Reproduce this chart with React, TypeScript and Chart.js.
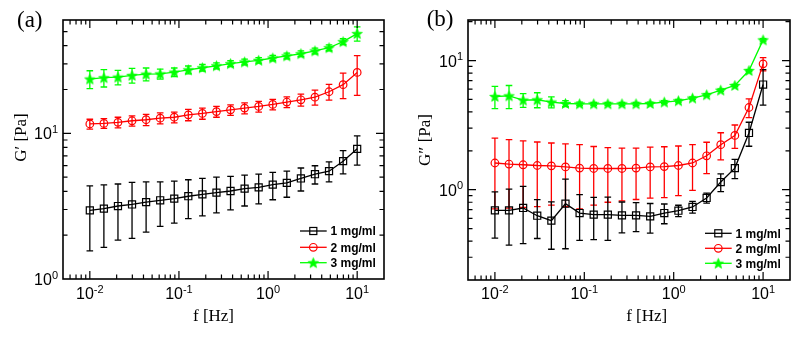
import React, { useEffect, useRef } from 'react';
import { Chart, registerables } from 'chart.js';

Chart.register(...registerables);

// ---- data ----
const freq = [0.01, 0.01438, 0.02069, 0.02976, 0.04281, 0.06158, 0.08859, 0.1274, 0.1833, 0.2637, 0.3793, 0.5456, 0.7848, 1.129, 1.624, 2.336, 3.36, 4.833, 6.952, 10];

const seriesLabels = ['1 mg/ml', '2 mg/ml', '3 mg/ml'];

// (a) G'
const gp1 = [2.96, 3.04, 3.17, 3.25, 3.37, 3.47, 3.56, 3.7, 3.81, 3.92, 4.02, 4.17, 4.26, 4.45, 4.57, 4.9, 5.24, 5.5, 6.44, 7.83];
const gp1Err = [1.4, 1.39, 1.32, 1.35, 1.27, 1.17, 1.14, 1.1, 1.1, 1.08, 1.04, 1.0, 0.98, 0.95, 0.93, 0.88, 0.75, 0.86, 1.17, 1.77];
const gp2 = [11.6, 11.7, 11.9, 12.2, 12.4, 12.7, 12.9, 13.4, 13.7, 14.1, 14.5, 14.9, 15.3, 15.8, 16.4, 17.0, 17.7, 19.3, 21.6, 26.2];
const gp2Err = [0.9, 0.9, 1.0, 1.0, 1.1, 1.1, 1.1, 1.2, 1.2, 1.2, 1.2, 1.3, 1.3, 1.3, 1.4, 1.6, 2.1, 2.4, 4.3, 8.0];
const gp3 = [23.6, 24.1, 24.3, 25.0, 25.5, 25.6, 26.3, 27.3, 28.2, 29.1, 30.1, 30.9, 31.7, 32.9, 34.0, 35.2, 36.8, 38.7, 42.6, 48.4];
const gp3Err = [3.3, 3.3, 2.8, 2.9, 2.6, 2.0, 1.8, 1.7, 1.5, 1.4, 1.4, 1.4, 1.4, 1.4, 1.5, 1.6, 1.7, 1.8, 2.0, 5.4];

// (b) G''
const gpp1 = [0.692, 0.692, 0.722, 0.629, 0.576, 0.779, 0.66, 0.641, 0.641, 0.633, 0.633, 0.622, 0.66, 0.688, 0.735, 0.863, 1.147, 1.47, 2.75, 6.52];
const gpp1Err = [0.27, 0.32, 0.34, 0.21, 0.23, 0.43, 0.255, 0.23, 0.235, 0.17, 0.16, 0.16, 0.115, 0.07, 0.076, 0.077, 0.18, 0.25, 0.58, 2.0];
const gpp2 = [1.61, 1.58, 1.56, 1.54, 1.53, 1.5, 1.47, 1.46, 1.46, 1.46, 1.47, 1.5, 1.51, 1.54, 1.61, 1.83, 2.23, 2.63, 4.33, 9.43];
const gpp2Err = [0.9, 0.86, 0.83, 0.8, 0.77, 0.76, 0.76, 0.7, 0.66, 0.64, 0.63, 0.64, 0.64, 0.64, 0.62, 0.5, 0.53, 0.54, 0.72, 1.1];
const gpp3 = [5.27, 5.33, 4.94, 4.97, 4.77, 4.65, 4.62, 4.62, 4.62, 4.62, 4.62, 4.65, 4.77, 4.88, 5.12, 5.43, 5.9, 6.41, 8.37, 14.45];
const gpp3Err = [1.03, 1.08, 0.6, 0.66, 0.47, 0.25, 0.15, 0.12, 0.12, 0.12, 0.12, 0.12, 0.12, 0.12, 0.12, 0.12, 0.12, 0.12, 0.15, 0.3];

// tick labels (exponents of 10)
const xTickExps = [-2, -1, 0, 1];
const yTickExpsA = [0, 1];
const yTickExpsB = [0, 1];

const COLORS = ['#000000', '#ff0000', '#00ff00'];
const MARKERS = ['square', 'circle', 'star'];

const SANS = '"Liberation Sans", Arial, sans-serif';
const SERIF = '"Liberation Serif", "Times New Roman", serif';

function starPath(ctx: CanvasRenderingContext2D, cx: number, cy: number, R: number, r: number) {
  ctx.beginPath();
  for (let i = 0; i < 10; i++) {
    const a = -Math.PI / 2 + (i * Math.PI) / 5;
    const rad = i % 2 === 0 ? R : r;
    const px = cx + rad * Math.cos(a);
    const py = cy + rad * Math.sin(a);
    if (i === 0) ctx.moveTo(px, py);
    else ctx.lineTo(px, py);
  }
  ctx.closePath();
}

function makeStar(color: string) {
  const c = document.createElement('canvas');
  c.width = 13;
  c.height = 13;
  const ctx = c.getContext('2d')!;
  starPath(ctx, 6.5, 7, 5.4, 2.3);
  ctx.fillStyle = color;
  ctx.fill();
  ctx.strokeStyle = color;
  ctx.lineWidth = 0.8;
  ctx.stroke();
  return c;
}

function drawMarker(ctx: CanvasRenderingContext2D, kind: string, x: number, y: number, color: string, star: HTMLCanvasElement) {
  ctx.save();
  ctx.strokeStyle = color;
  ctx.lineWidth = 1.2;
  if (kind === 'square') {
    const s = 5 * Math.SQRT1_2;
    ctx.fillStyle = 'rgba(255,255,255,0)';
    ctx.strokeRect(x - s, y - s, 2 * s, 2 * s);
  } else if (kind === 'circle') {
    ctx.beginPath();
    ctx.arc(x, y, 3.8, 0, Math.PI * 2);
    ctx.stroke();
  } else {
    ctx.drawImage(star, x - star.width / 2, y - star.height / 2);
  }
  ctx.restore();
}

function minorTicks(min: number, max: number) {
  const out: number[] = [];
  const d0 = Math.floor(Math.log10(min));
  const d1 = Math.ceil(Math.log10(max));
  for (let d = d0; d <= d1; d++) {
    for (let m = 2; m <= 9; m++) {
      const v = m * Math.pow(10, d);
      if (v > min * 1.001 && v < max * 0.999) out.push(v);
    }
  }
  return out;
}

function drawPow(ctx: CanvasRenderingContext2D, exp: number, x: number, baseline: number, align: 'center' | 'right') {
  const main = '10';
  const sup = String(exp);
  ctx.font = `16px ${SANS}`;
  const wMain = ctx.measureText(main).width;
  ctx.font = `11px ${SANS}`;
  const wSup = ctx.measureText(sup).width;
  const total = wMain + wSup;
  const start = align === 'center' ? x - total / 2 : x - total;
  ctx.textAlign = 'left';
  ctx.textBaseline = 'alphabetic';
  ctx.fillStyle = '#000';
  ctx.font = `16px ${SANS}`;
  ctx.fillText(main, start, baseline);
  ctx.font = `11px ${SANS}`;
  ctx.fillText(sup, start + wMain, baseline - 6.5);
}

type Panel = {
  values: number[][];
  errs: number[][];
  yMin: number;
  yMax: number;
  yExps: number[];
  padding: { left: number; right: number; top: number; bottom: number };
  xTitle: string;
  xTitleX: number;
  yTitle: string;
  yTitleX: number;
  yTitleY: number;
  tag: string;
  tagX: number;
  tagY: number;
  legend: { x1: number; x2: number; xm: number; tx: number; ys: number[] };
  width: number;
};

const panels: Panel[] = [
  {
    values: [gp1, gp2, gp3],
    errs: [gp1Err, gp2Err, gp3Err],
    yMin: 1,
    yMax: 60,
    yExps: yTickExpsA,
    padding: { left: 63, right: 16, top: 20, bottom: 59 },
    xTitle: 'f [Hz]',
    xTitleX: 213.5,
    yTitle: 'G\u2032 [Pa]',
    yTitleX: 25.5,
    yTitleY: 137.5,
    tag: '(a)',
    tagX: 17,
    tagY: 27,
    legend: { x1: 300, x2: 326.7, xm: 313.3, tx: 330.5, ys: [231, 247.3, 262.7] },
    width: 400,
  },
  {
    values: [gpp1, gpp2, gpp3],
    errs: [gpp1Err, gpp2Err, gpp3Err],
    yMin: 0.2,
    yMax: 20.6,
    yExps: yTickExpsB,
    padding: { left: 68, right: 11, top: 20, bottom: 58 },
    xTitle: 'f [Hz]',
    xTitleX: 246.7,
    yTitle: 'G\u2033 [Pa]',
    yTitleX: 30,
    yTitleY: 140,
    tag: '(b)',
    tagX: 26.7,
    tagY: 26,
    legend: { x1: 305, x2: 331.7, xm: 318.3, tx: 335.5, ys: [233.3, 248.3, 263.3] },
    width: 401,
  },
];

const X_MIN = 0.005;
const X_MAX = 20;

function PanelChart({ panel, left }: { panel: Panel; left: number }) {
  const ref = useRef<HTMLCanvasElement>(null);
  useEffect(() => {
    const canvas = ref.current!;
    const stars = COLORS.map((c) => makeStar(c));
    const datasets = panel.values.map((vals, i) => ({
      label: seriesLabels[i],
      data: vals.map((v, j) => ({ x: freq[j], y: v })),
      showLine: true,
      borderColor: COLORS[i],
      backgroundColor: 'rgba(255,255,255,0)',
      borderWidth: 1.3,
      pointStyle: MARKERS[i] === 'square' ? 'rect' : MARKERS[i] === 'circle' ? 'circle' : stars[i],
      pointRadius: MARKERS[i] === 'square' ? 5 : MARKERS[i] === 'circle' ? 3.8 : 5,
      pointBorderWidth: 1.2,
      pointBorderColor: COLORS[i],
      pointBackgroundColor: 'rgba(255,255,255,0)',
      tension: 0,
    }));

    const errPlugin = {
      id: 'errbars',
      beforeDatasetsDraw(chart: any) {
        const { ctx, chartArea, scales } = chart;
        const xs = scales.x;
        const ys = scales.y;
        ctx.save();
        ctx.beginPath();
        ctx.rect(chartArea.left, chartArea.top, chartArea.right - chartArea.left, chartArea.bottom - chartArea.top);
        ctx.clip();
        for (let i = panel.values.length - 1; i >= 0; i--) {
          ctx.strokeStyle = COLORS[i];
          ctx.lineWidth = 1.3;
          panel.values[i].forEach((v, j) => {
            const e = panel.errs[i][j];
            const px = xs.getPixelForValue(freq[j]);
            const pt = ys.getPixelForValue(v + e);
            const lo = v - e > 0 ? v - e : panel.yMin * 0.1;
            const pb = ys.getPixelForValue(lo);
            ctx.beginPath();
            ctx.moveTo(px, pt);
            ctx.lineTo(px, pb);
            ctx.moveTo(px - 3.3, pt);
            ctx.lineTo(px + 3.3, pt);
            if (v - e > 0) {
              ctx.moveTo(px - 3.3, pb);
              ctx.lineTo(px + 3.3, pb);
            }
            ctx.stroke();
          });
        }
        ctx.restore();
      },
    };

    const framePlugin = {
      id: 'frame',
      afterDraw(chart: any) {
        const { ctx, chartArea, scales } = chart;
        const xs = scales.x;
        const ys = scales.y;
        const { left: L, right: R, top: T, bottom: B } = chartArea;
        ctx.save();
        // ticks
        ctx.strokeStyle = '#000';
        ctx.lineWidth = 1.2;
        const MAJ = 8;
        const MIN = 4.5;
        const xMaj = xTickExps.map((e) => Math.pow(10, e));
        const xMin = minorTicks(X_MIN, X_MAX);
        const yMaj = panel.yExps.map((e) => Math.pow(10, e)).filter((v) => v > panel.yMin * 1.001 && v < panel.yMax * 0.999);
        const yMin = minorTicks(panel.yMin, panel.yMax);
        ctx.beginPath();
        const xt = (v: number, len: number) => {
          const p = xs.getPixelForValue(v);
          ctx.moveTo(p, B);
          ctx.lineTo(p, B - len);
          ctx.moveTo(p, T);
          ctx.lineTo(p, T + len);
        };
        const yt = (v: number, len: number) => {
          const p = ys.getPixelForValue(v);
          ctx.moveTo(L, p);
          ctx.lineTo(L + len, p);
          ctx.moveTo(R, p);
          ctx.lineTo(R - len, p);
        };
        xMaj.forEach((v) => xt(v, MAJ));
        xMin.forEach((v) => xt(v, MIN));
        yMaj.forEach((v) => yt(v, MAJ));
        yMin.forEach((v) => yt(v, MIN));
        ctx.stroke();
        // frame
        ctx.lineWidth = 1.6;
        ctx.strokeRect(L, T, R - L, B - T);
        // tick labels
        xTickExps.forEach((e) => drawPow(ctx, e, xs.getPixelForValue(Math.pow(10, e)), 299, 'center'));
        panel.yExps.forEach((e) => drawPow(ctx, e, L - 5, ys.getPixelForValue(Math.pow(10, e)) + 6, 'right'));
        // axis titles
        ctx.fillStyle = '#000';
        ctx.font = `17px ${SERIF}`;
        ctx.textAlign = 'center';
        ctx.textBaseline = 'alphabetic';
        ctx.fillText(panel.xTitle, panel.xTitleX, 321);
        ctx.save();
        ctx.translate(panel.yTitleX, panel.yTitleY);
        ctx.rotate(-Math.PI / 2);
        ctx.fillText(panel.yTitle, 0, 0);
        ctx.restore();
        // panel tag
        ctx.font = `23px ${SERIF}`;
        ctx.textAlign = 'left';
        ctx.fillText(panel.tag, panel.tagX, panel.tagY);
        // legend
        const lg = panel.legend;
        seriesLabels.forEach((lab, i) => {
          const y = lg.ys[i];
          ctx.strokeStyle = COLORS[i];
          ctx.lineWidth = 1.3;
          ctx.beginPath();
          ctx.moveTo(lg.x1, y);
          ctx.lineTo(lg.x2, y);
          ctx.stroke();
          drawMarker(ctx, MARKERS[i], lg.xm, y, COLORS[i], stars[i]);
          ctx.fillStyle = '#000';
          ctx.font = `bold 12px ${SANS}`;
          ctx.textAlign = 'left';
          ctx.fillText(lab, lg.tx, y + 4.3);
        });
        ctx.restore();
      },
    };

    const chart = new Chart(canvas, {
      type: 'scatter',
      data: { datasets: datasets as any },
      options: {
        animation: false,
        responsive: false,
        devicePixelRatio: 1,
        events: [],
        layout: { padding: panel.padding },
        plugins: { legend: { display: false }, tooltip: { enabled: false }, title: { display: false } },
        scales: {
          x: { type: 'logarithmic', min: X_MIN, max: X_MAX, display: false },
          y: { type: 'logarithmic', min: panel.yMin, max: panel.yMax, display: false },
        },
      },
      plugins: [errPlugin, framePlugin],
    });
    return () => chart.destroy();
  }, [panel]);
  return (
    <canvas
      ref={ref}
      width={panel.width}
      height={338}
      style={{ position: 'absolute', left, top: 0, width: panel.width, height: 338 }}
    />
  );
}

export default function App() {
  return (
    <div style={{ position: 'absolute', left: 0, top: 0, width: 801, height: 338, background: '#fff', overflow: 'hidden' }}>
      <PanelChart panel={panels[0]} left={0} />
      <PanelChart panel={panels[1]} left={400} />
    </div>
  );
}
